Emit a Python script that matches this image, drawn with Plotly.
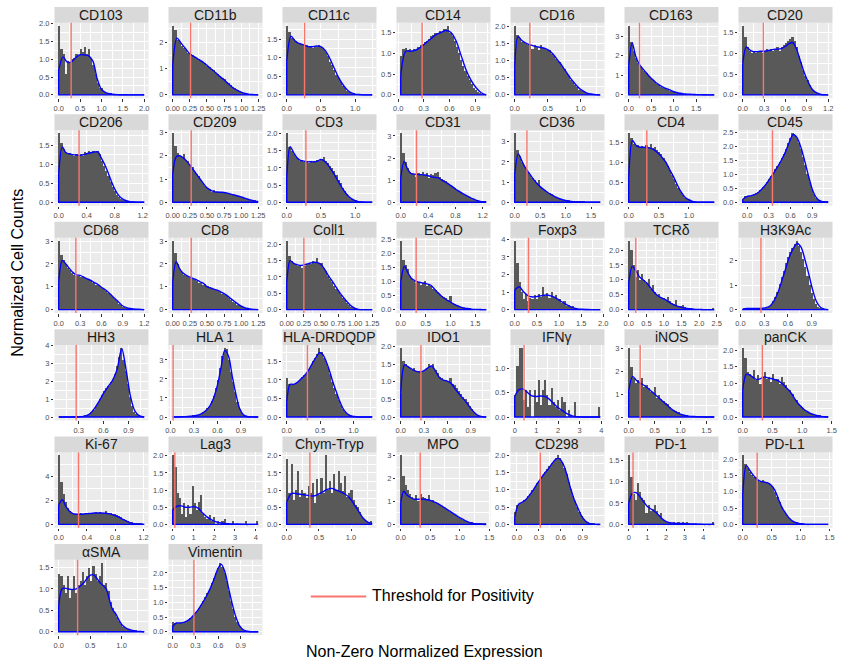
import numpy as np
import plotly.graph_objects as go

# ---------------------------------------------------------------- data
MARKERS = ["CD103", "CD11b", "CD11c", "CD14", "CD16", "CD163", "CD20",
           "CD206", "CD209", "CD3", "CD31", "CD36", "CD4", "CD45",
           "CD68", "CD8", "Coll1", "ECAD", "Foxp3", "TCRδ", "H3K9Ac",
           "HH3", "HLA 1", "HLA-DRDQDP", "IDO1", "IFNγ", "iNOS", "panCK",
           "Ki-67", "Lag3", "Chym-Tryp", "MPO", "CD298", "PD-1", "PD-L1",
           "αSMA", "Vimentin"]

# observed expression range of each marker (histogram extent)
LOWER = [0, 0, 0, 0.03, 0, 0, 0,
         0, 0, 0, 0, 0, 0, -0.06,
         0, 0, 0, 0, 0, 0, 0.03,
         0.06, 0.03, 0, 0, 0, 0, 0,
         0, 0, 0, 0, -0.03, 0, 0,
         0, 0]
UPPER = [2.0, 1.25, 1.25, 1.03, 1.3, 1.9, 1.2,
         1.22, 1.25, 1.25, 1.25, 1.68, 1.42, 1.12,
         1.2, 1.25, 1.25, 1.72, 1.93, 2.43, 1.11,
         1.09, 1.12, 1.28, 1.1, 3.95, 1.65, 1.44,
         1.21, 4.12, 1.33, 1.45, 1.14, 4.58, 1.48,
         1.36, 1.13]
THRESHOLD = [0.29, 0.26, 0.26, 0.28, 0.23, 0.24, 0.29,
             0.29, 0.27, 0.28, 0.23, 0.24, 0.30, 0.35,
             0.24, 0.27, 0.25, 0.31, 0.31, 0.20, 0.26,
             0.27, 0.035, 0.31, 0.26, 0.43, 0.22, 0.33,
             0.28, 0.10, 0.36, 0.33, 0.32, 0.23, 0.25,
             0.30, 0.28]
X_STEP = [0.5, 0.25, 0.5, 0.3, 0.5, 0.5, 0.3,
          0.4, 0.25, 0.5, 0.4, 0.5, 0.5, 0.3,
          0.3, 0.25, 0.25, 0.5, 0.5, 0.5, 0.3,
          0.3, 0.3, 0.5, 0.3, 1, 0.5, 0.5,
          0.4, 1, 0.5, 0.5, 0.3, 1, 0.5,
          0.5, 0.3]
Y_STEP = [0.5, 1, 0.5, 0.5, 0.5, 1, 0.5,
          0.5, 1, 0.5, 1, 1, 0.5, 0.5,
          1, 1, 0.5, 0.5, 1, 0.5, 1,
          1, 1, 0.5, 0.5, 0.5, 1, 0.5,
          2, 0.5, 0.5, 1, 0.5, 0.5, 0.5,
          0.5, 0.5]

# normalized histogram heights (equal-width bins across each range)
BARS_CD103 = [1.93, 1.3, 1.15, 0.6, 0.95, 0.9, 1.0, 1.05, 1.15, 1.1, 1.3, 1.2, 1.35, 1.15, 1.3, 1.05, 0.85, 0.6, 0.35, 0.2,
              0.2, 0.08, 0.05, 0.04, 0.03, 0.02, 0.02, 0.01, 0.01, 0.0, 0.01, 0.02, 0.0, 0.0, 0.0, 0.0, 0.0, 0.0, 0.0, 0.02]
BARS_CD11B = [2.6, 2.45, 2.1, 2.0, 1.85, 1.8, 1.7, 1.6, 1.55, 1.5, 1.45, 1.4, 1.35, 1.3, 1.25, 1.2, 1.1, 1.05, 1.0, 0.95,
              0.85, 0.8, 0.72, 0.65, 0.6, 0.5, 0.45, 0.38, 0.3, 0.25, 0.2, 0.15, 0.1, 0.07, 0.05, 0.03, 0.02, 0.01, 0.01, 0.0]
BARS_CD11C = [1.85, 1.7, 1.55, 1.5, 1.45, 1.4, 1.4, 1.38, 1.35, 1.35, 1.3, 1.3, 1.28, 1.33, 1.3, 1.35, 1.3, 1.25, 1.15, 1.05,
              0.9, 0.8, 0.68, 0.55, 0.45, 0.35, 0.25, 0.18, 0.12, 0.08, 0.05, 0.03, 0.02, 0.01, 0.01, 0.0, 0.0, 0.0, 0.0, 0.01]
BARS_CD14 = [0.95, 1.1, 1.12, 1.08, 1.1, 1.05, 1.1, 1.08, 1.15, 1.2, 1.22, 1.28, 1.3, 1.35, 1.42, 1.45, 1.5, 1.48, 1.55, 1.52,
             1.58, 1.6, 1.65, 1.5, 1.42, 1.3, 1.15, 1.0, 0.85, 0.7, 0.58, 0.45, 0.35, 0.26, 0.18, 0.12, 0.07, 0.04, 0.02, 0.01]
BARS_CD16 = [2.0, 1.75, 1.65, 1.55, 1.55, 1.5, 1.45, 1.5, 1.35, 1.45, 1.4, 1.3, 1.45, 1.38, 1.35, 1.3, 1.3, 1.2, 1.15, 1.05,
             1.0, 0.95, 0.85, 0.75, 0.65, 0.55, 0.45, 0.38, 0.3, 0.22, 0.16, 0.12, 0.08, 0.05, 0.03, 0.02, 0.01, 0.005, 0.0, 0.0]
BARS_CD163 = [3.5, 2.7, 2.25, 1.9, 1.65, 1.5, 1.38, 1.2, 1.1, 0.97, 0.86, 0.78, 0.66, 0.57, 0.5, 0.43, 0.36, 0.31, 0.27, 0.22,
              0.18, 0.14, 0.11, 0.09, 0.07, 0.05, 0.045, 0.04, 0.03, 0.025, 0.02, 0.015, 0.01, 0.01, 0.005, 0.0, 0.0, 0.0, 0.0, 0.01]
BARS_CD20 = [1.65, 1.4, 1.15, 1.05, 1.0, 1.05, 1.0, 1.05, 1.05, 1.0, 1.05, 1.1, 1.05, 1.1, 1.05, 1.1, 1.15, 1.05, 1.15, 1.2,
             1.25, 1.3, 1.35, 1.4, 1.3, 1.15, 0.95, 0.8, 0.6, 0.45, 0.35, 0.25, 0.15, 0.1, 0.06, 0.04, 0.02, 0.01, 0.01, 0.0]
BARS_CD206 = [1.8, 1.55, 1.4, 1.3, 1.25, 1.28, 1.25, 1.22, 1.25, 1.2, 1.25, 1.22, 1.3, 1.25, 1.35, 1.3, 1.35, 1.32, 1.35, 1.25,
              1.08, 0.95, 0.82, 0.68, 0.52, 0.4, 0.28, 0.18, 0.12, 0.08, 0.05, 0.03, 0.02, 0.01, 0.01, 0.0, 0.0, 0.0, 0.0, 0.0]
BARS_CD209 = [2.95, 2.4, 2.1, 2.0, 1.95, 2.05, 1.8, 1.75, 1.6, 1.5, 1.3, 1.2, 1.1, 0.95, 0.8, 0.7, 0.6, 0.55, 0.45, 0.5,
              0.45, 0.42, 0.45, 0.4, 0.42, 0.38, 0.4, 0.33, 0.32, 0.3, 0.26, 0.25, 0.2, 0.18, 0.15, 0.12, 0.1, 0.07, 0.05, 0.03]
BARS_CD3 = [2.0, 1.6, 1.5, 1.4, 1.3, 1.25, 1.2, 1.22, 1.18, 1.2, 1.15, 1.2, 1.18, 1.2, 1.22, 1.2, 1.25, 1.3, 1.2, 1.15,
            1.05, 1.0, 0.9, 0.78, 0.65, 0.55, 0.42, 0.32, 0.22, 0.15, 0.1, 0.06, 0.03, 0.02, 0.01, 0.0, 0.0, 0.0, 0.0, 0.0]
BARS_CD31 = [3.1, 2.2, 1.8, 1.55, 1.35, 1.3, 1.25, 1.15, 1.3, 1.25, 1.35, 1.2, 1.3, 1.1, 1.25, 1.2, 1.3, 1.35, 1.15, 1.05,
             1.0, 0.95, 0.85, 0.78, 0.7, 0.62, 0.56, 0.5, 0.44, 0.38, 0.33, 0.28, 0.22, 0.17, 0.13, 0.09, 0.06, 0.04, 0.02, 0.01]
BARS_CD36 = [3.4, 2.6, 2.3, 2.0, 1.85, 1.65, 1.5, 1.35, 1.2, 1.1, 0.95, 1.1, 0.75, 0.65, 0.6, 0.5, 0.45, 0.38, 0.3, 0.26,
             0.2, 0.16, 0.12, 0.1, 0.07, 0.05, 0.04, 0.03, 0.02, 0.015, 0.01, 0.01, 0.005, 0.0, 0.0, 0.0, 0.0, 0.0, 0.0, 0.0]
BARS_CD4 = [1.72, 1.6, 1.45, 1.4, 1.42, 1.38, 1.4, 1.35, 1.42, 1.38, 1.45, 1.35, 1.38, 1.3, 1.25, 1.2, 1.1, 1.0, 0.9, 0.8,
            0.68, 0.57, 0.45, 0.35, 0.25, 0.17, 0.11, 0.07, 0.04, 0.02, 0.01, 0.0, 0.0, 0.0, 0.0, 0.0, 0.0, 0.0, 0.0, 0.0]
BARS_CD45 = [0.12, 0.2, 0.21, 0.22, 0.25, 0.27, 0.31, 0.36, 0.43, 0.52, 0.61, 0.72, 0.83, 0.93, 1.05, 1.17, 1.3, 1.42, 1.57, 1.72,
             1.9, 2.1, 2.28, 2.45, 2.38, 2.3, 2.1, 1.9, 1.62, 1.33, 1.0, 0.72, 0.47, 0.28, 0.15, 0.08, 0.04, 0.02, 0.01, 0.005]
BARS_CD68 = [3.0, 2.4, 2.2, 2.0, 1.85, 1.75, 1.6, 1.55, 1.5, 1.5, 1.45, 1.5, 1.4, 1.35, 1.35, 1.3, 1.2, 1.1, 1.1, 1.05,
             0.98, 0.92, 0.82, 0.74, 0.65, 0.56, 0.47, 0.38, 0.28, 0.2, 0.13, 0.09, 0.06, 0.05, 0.04, 0.03, 0.02, 0.02, 0.01, 0.01]
BARS_CD8 = [3.0, 2.5, 2.0, 1.8, 1.65, 1.55, 1.5, 1.45, 1.4, 1.35, 1.3, 1.28, 1.2, 1.18, 1.1, 1.12, 1.05, 1.0, 0.98, 0.92,
            0.88, 0.82, 0.78, 0.72, 0.66, 0.6, 0.52, 0.45, 0.36, 0.3, 0.22, 0.16, 0.12, 0.08, 0.05, 0.04, 0.02, 0.01, 0.01, 0.01]
BARS_COLL1 = [2.1, 1.65, 1.5, 1.42, 1.4, 1.35, 1.38, 1.3, 1.35, 1.4, 1.45, 1.42, 1.5, 1.45, 1.6, 1.45, 1.45, 1.3, 1.2, 1.05,
              0.95, 0.85, 0.75, 0.65, 0.55, 0.46, 0.38, 0.3, 0.22, 0.16, 0.1, 0.06, 0.03, 0.01, 0.01, 0.0, 0.0, 0.0, 0.0, 0.0]
BARS_ECAD = [2.45, 1.8, 1.6, 1.45, 1.2, 1.1, 1.05, 0.95, 1.0, 0.9, 0.95, 1.05, 0.85, 0.9, 0.85, 0.75, 0.7, 0.65, 0.55, 0.5,
             0.45, 0.42, 0.35, 0.5, 0.25, 0.22, 0.18, 0.15, 0.12, 0.08, 0.06, 0.05, 0.04, 0.03, 0.02, 0.02, 0.01, 0.01, 0.0, 0.0]
BARS_FOXP3 = [3.9, 2.7, 1.6, 1.0, 0.6, 0.9, 0.5, 0.7, 0.65, 0.85, 0.6, 0.9, 0.75, 1.3, 0.8, 0.95, 0.7, 1.0, 0.75, 0.85,
              0.55, 0.6, 0.4, 0.5, 0.25, 0.3, 0.15, 0.2, 0.08, 0.05, 0.03, 0.02, 0.0, 0.02, 0.0, 0.0, 0.0, 0.0, 0.0, 0.02]
BARS_TCRD = [2.3, 2.0, 1.5, 1.1, 1.35, 1.0, 1.2, 1.0, 0.9, 1.05, 0.7, 0.85, 0.6, 0.5, 0.55, 0.45, 0.4, 0.35, 0.45, 0.3,
             0.25, 0.2, 0.35, 0.15, 0.12, 0.18, 0.1, 0.05, 0.08, 0.04, 0.03, 0.02, 0.03, 0.01, 0.0, 0.0, 0.0, 0.0, 0.0, 0.08]
BARS_H3K9AC = [0.03, 0.04, 0.05, 0.05, 0.05, 0.05, 0.05, 0.05, 0.05, 0.05, 0.06, 0.08, 0.12, 0.22, 0.36, 0.52, 0.75, 1.05, 1.33, 1.6,
               1.9, 2.17, 2.36, 2.55, 2.68, 2.8, 2.6, 2.35, 2.07, 1.75, 1.4, 1.03, 0.7, 0.43, 0.24, 0.12, 0.06, 0.02, 0.01, 0.005]
BARS_HH3 = [0.0, 0.0, 0.0, 0.0, 0.0, 0.0, 0.0, 0.005, 0.005, 0.01, 0.02, 0.03, 0.06, 0.11, 0.18, 0.28, 0.42, 0.6, 0.8, 1.0,
            1.22, 1.45, 1.62, 1.76, 1.95, 2.15, 2.4, 2.85, 3.35, 3.85, 3.2, 2.6, 1.85, 1.15, 0.62, 0.3, 0.15, 0.06, 0.02, 0.005]
BARS_HLA1 = [0.0, 0.0, 0.01, 0.01, 0.02, 0.02, 0.03, 0.04, 0.05, 0.06, 0.07, 0.09, 0.12, 0.18, 0.24, 0.33, 0.45, 0.6, 0.82, 1.1,
             1.5, 1.95, 2.55, 3.2, 3.6, 3.55, 3.0, 2.35, 1.85, 1.3, 0.8, 0.42, 0.2, 0.09, 0.04, 0.02, 0.01, 0.0, 0.0, 0.0]
BARS_HLADR = [1.05, 0.88, 0.86, 0.9, 0.92, 0.95, 1.0, 1.08, 1.12, 1.2, 1.3, 1.38, 1.5, 1.6, 1.7, 1.85, 1.75, 1.6, 1.5, 1.35,
              1.15, 0.95, 0.78, 0.62, 0.47, 0.33, 0.22, 0.13, 0.07, 0.04, 0.02, 0.01, 0.0, 0.0, 0.0, 0.0, 0.0, 0.0, 0.0, 0.0]
BARS_IDO1 = [1.95, 1.6, 1.5, 1.45, 1.4, 1.35, 1.38, 1.3, 1.3, 1.28, 1.3, 1.35, 1.4, 1.5, 1.45, 1.5, 1.35, 1.25, 1.15, 1.1,
             1.05, 1.05, 1.02, 1.1, 0.95, 0.9, 0.82, 0.75, 0.66, 0.58, 0.5, 0.42, 0.32, 0.24, 0.15, 0.09, 0.05, 0.02, 0.01, 0.0]
BARS_IFNG = [0.45, 1.05, 1.4, 1.4, 0.35, 0.55, 0.2, 0.55, 0.0, 0.55, 0.3, 0.75, 0.25, 0.55, 0.75, 0.45, 0.25, 0.6, 0.3, 0.2,
             0.35, 0.15, 0.4, 0.3, 0.0, 0.15, 0.05, 0.0, 0.3, 0.0, 0.0, 0.0, 0.0, 0.0, 0.0, 0.0, 0.0, 0.0, 0.0, 0.2]
BARS_INOS = [3.0, 2.2, 1.7, 1.5, 1.6, 1.5, 1.7, 1.3, 1.4, 1.25, 1.1, 1.05, 1.3, 0.85, 0.95, 0.8, 0.7, 0.6, 0.55, 0.45,
             0.35, 0.3, 0.25, 0.2, 0.12, 0.1, 0.08, 0.05, 0.04, 0.03, 0.02, 0.02, 0.01, 0.0, 0.01, 0.0, 0.0, 0.0, 0.0, 0.0]
BARS_PANCK = [2.05, 1.75, 1.35, 1.3, 1.2, 1.4, 1.1, 1.25, 1.0, 1.2, 1.35, 1.15, 1.2, 1.05, 1.3, 1.1, 1.15, 1.0, 1.2, 1.05,
              0.95, 0.85, 0.8, 0.7, 0.55, 0.5, 0.4, 0.32, 0.28, 0.2, 0.15, 0.12, 0.1, 0.08, 0.06, 0.05, 0.04, 0.02, 0.03, 0.02]
BARS_KI67 = [5.7, 3.5, 2.5, 1.8, 1.3, 1.1, 0.9, 0.85, 0.8, 0.85, 0.9, 0.85, 0.8, 0.9, 0.95, 0.9, 0.95, 1.0, 0.9, 1.0,
             0.95, 0.9, 1.05, 0.95, 0.9, 0.85, 0.8, 0.75, 0.65, 0.55, 0.45, 0.35, 0.25, 0.17, 0.1, 0.06, 0.04, 0.02, 0.01, 0.0]
BARS_LAG3 = [2.0, 1.65, 0.9, 0.75, 0.3, 0.6, 0.2, 0.55, 0.3, 1.1, 0.6, 0.4, 0.65, 0.85, 0.3, 0.2, 0.15, 0.25, 0.1, 0.2,
             0.0, 0.1, 0.0, 0.1, 0.15, 0.0, 0.0, 0.0, 0.1, 0.0, 0.0, 0.0, 0.0, 0.0, 0.1, 0.0, 0.0, 0.0, 0.0, 0.1]
BARS_CHYM = [1.9, 0.9, 1.75, 0.7, 1.0, 1.55, 0.8, 1.0, 0.9, 0.75, 1.1, 0.9, 1.2, 0.6, 1.3, 0.85, 1.35, 0.9, 2.0, 1.0,
             1.25, 0.9, 1.45, 1.0, 1.55, 1.2, 0.95, 1.4, 0.8, 0.9, 1.0, 0.7, 0.55, 0.5, 0.35, 0.2, 0.15, 0.1, 0.05, 0.1]
BARS_MPO = [3.0, 2.1, 1.7, 1.5, 1.3, 1.2, 1.1, 1.25, 1.0, 1.3, 1.2, 1.15, 1.1, 1.25, 1.0, 1.05, 0.95, 0.9, 0.85, 0.8,
            0.72, 0.65, 0.62, 0.52, 0.45, 0.38, 0.35, 0.28, 0.22, 0.18, 0.14, 0.1, 0.08, 0.06, 0.04, 0.03, 0.02, 0.01, 0.01, 0.005]
BARS_CD298 = [0.35, 0.55, 0.62, 0.64, 0.68, 0.73, 0.8, 0.88, 0.97, 1.07, 1.17, 1.25, 1.34, 1.42, 1.5, 1.58, 1.67, 1.75, 1.82, 1.9,
              1.98, 1.9, 1.78, 1.62, 1.45, 1.22, 1.0, 0.8, 0.65, 0.5, 0.36, 0.24, 0.15, 0.09, 0.04, 0.02, 0.01, 0.005, 0.0, 0.0]
BARS_PD1 = [1.6, 1.1, 0.7, 0.55, 0.95, 0.75, 0.6, 0.55, 0.25, 0.45, 0.3, 0.35, 0.45, 0.3, 0.2, 0.25, 0.1, 0.05, 0.04, 0.04,
            0.02, 0.04, 0.02, 0.05, 0.02, 0.04, 0.0, 0.05, 0.02, 0.0, 0.0, 0.0, 0.0, 0.0, 0.0, 0.0, 0.0, 0.0, 0.0, 0.05]
BARS_PDL1 = [2.1, 1.85, 1.7, 1.6, 1.5, 1.45, 1.45, 1.35, 1.3, 1.35, 1.3, 1.3, 1.25, 1.2, 1.12, 0.98, 0.82, 0.66, 0.52, 0.4,
             0.3, 0.22, 0.15, 0.1, 0.06, 0.04, 0.02, 0.01, 0.01, 0.0, 0.0, 0.0, 0.0, 0.0, 0.0, 0.0, 0.0, 0.0, 0.0, 0.0]
BARS_ASMA = [1.35, 1.3, 1.1, 0.9, 1.3, 0.8, 1.0, 1.3, 0.9, 1.1, 1.2, 1.4, 1.1, 1.3, 1.5, 1.2, 1.55, 1.35, 1.2, 1.3,
             1.6, 1.1, 1.15, 0.95, 0.7, 0.55, 0.45, 0.35, 0.25, 0.18, 0.12, 0.1, 0.08, 0.06, 0.05, 0.04, 0.03, 0.02, 0.02, 0.01]
BARS_VIM = [0.35, 0.3, 0.3, 0.3, 0.31, 0.33, 0.36, 0.41, 0.47, 0.54, 0.62, 0.7, 0.81, 0.93, 1.05, 1.18, 1.32, 1.47, 1.65, 1.82,
            2.0, 2.18, 2.33, 2.22, 2.0, 1.72, 1.38, 1.05, 0.78, 0.52, 0.33, 0.19, 0.1, 0.05, 0.02, 0.01, 0.005, 0.0, 0.0, 0.0]

# kernel density estimates, sampled evenly across each range
DENS_CD103 = [0.7, 1.07, 0.92, 0.93, 1.05, 1.13, 1.12, 1.1, 0.95, 0.45, 0.15, 0.06, 0.03, 0.01, 0.005, 0, 0, 0, 0, 0, 0]
DENS_CD11B = [1.1, 2.15, 1.95, 1.75, 1.55, 1.45, 1.35, 1.25, 1.12, 0.98, 0.85, 0.7, 0.57, 0.42, 0.28, 0.18, 0.1, 0.05,
              0.02, 0.01, 0.0]
DENS_CD11C = [0.9, 1.58, 1.45, 1.38, 1.35, 1.3, 1.3, 1.32, 1.3, 1.2, 1.0, 0.75, 0.5, 0.3, 0.15, 0.06, 0.02, 0.01, 0.0,
              0.0, 0.0]
DENS_CD14 = [0.45, 1.05, 1.05, 1.08, 1.15, 1.25, 1.35, 1.45, 1.5, 1.55, 1.5, 1.3, 0.95, 0.6, 0.35, 0.17, 0.05, 0.0]
DENS_CD16 = [0.8, 1.7, 1.6, 1.53, 1.48, 1.45, 1.42, 1.4, 1.38, 1.36, 1.32, 1.25, 1.15, 1.02, 0.9, 0.76, 0.62, 0.48, 0.36,
             0.25, 0.16, 0.1, 0.05, 0.03, 0.01, 0.005, 0.0]
DENS_CD163 = [1.5, 2.65, 2.0, 1.58, 1.35, 1.15, 0.95, 0.78, 0.62, 0.5, 0.4, 0.32, 0.25, 0.17, 0.12, 0.08, 0.05, 0.04,
              0.03, 0.02, 0.01, 0.01, 0.005, 0.0, 0.0, 0.0]
DENS_CD20 = [0.75, 1.15, 1.08, 1.04, 1.04, 1.05, 1.05, 1.06, 1.08, 1.1, 1.1, 1.12, 1.17, 1.23, 1.26, 1.12, 0.87, 0.6,
             0.38, 0.2, 0.09, 0.04, 0.01, 0.0, 0.0]
DENS_CD206 = [0.75, 1.45, 1.3, 1.27, 1.25, 1.24, 1.23, 1.25, 1.28, 1.3, 1.32, 1.32, 1.15, 0.97, 0.74, 0.5, 0.3, 0.16,
              0.08, 0.04, 0.015, 0.005, 0.0, 0.0, 0.0]
DENS_CD209 = [1.2, 1.95, 2.0, 1.92, 1.78, 1.6, 1.4, 1.2, 1.0, 0.8, 0.62, 0.52, 0.46, 0.44, 0.43, 0.42, 0.39, 0.35, 0.31,
              0.27, 0.23, 0.18, 0.13, 0.09, 0.05, 0.03]
DENS_CD3 = [0.7, 1.62, 1.45, 1.3, 1.22, 1.2, 1.18, 1.18, 1.18, 1.2, 1.25, 1.2, 1.1, 0.95, 0.8, 0.62, 0.45, 0.3, 0.18,
            0.1, 0.05, 0.02, 0.01, 0.0, 0.0, 0.0]
DENS_CD31 = [1.1, 1.85, 1.5, 1.3, 1.27, 1.25, 1.25, 1.23, 1.2, 1.15, 1.12, 1.1, 1.0, 0.92, 0.82, 0.72, 0.6, 0.5, 0.4,
             0.32, 0.24, 0.16, 0.1, 0.05, 0.02, 0.01]
DENS_CD36 = [1.4, 2.4, 2.05, 1.7, 1.45, 1.2, 0.98, 0.8, 0.65, 0.52, 0.4, 0.3, 0.22, 0.15, 0.1, 0.06, 0.04, 0.02, 0.01,
             0.005, 0, 0, 0, 0, 0]
DENS_CD4 = [0.6, 1.55, 1.42, 1.38, 1.38, 1.37, 1.35, 1.3, 1.22, 1.12, 1.0, 0.82, 0.65, 0.45, 0.27, 0.14, 0.07, 0.03,
            0.01, 0.0, 0.0, 0.0, 0.0, 0.0]
DENS_CD45 = [0.1, 0.2, 0.23, 0.27, 0.35, 0.48, 0.65, 0.85, 1.05, 1.28, 1.52, 1.8, 2.15, 2.42, 2.3, 1.95, 1.45, 0.9, 0.42,
             0.15, 0.04, 0.01, 0.0]
DENS_CD68 = [1.2, 2.15, 2.0, 1.8, 1.62, 1.52, 1.5, 1.42, 1.35, 1.28, 1.18, 1.1, 0.98, 0.88, 0.75, 0.6, 0.45, 0.3, 0.16,
             0.09, 0.05, 0.03, 0.02, 0.01, 0.0]
DENS_CD8 = [1.2, 2.1, 1.8, 1.6, 1.5, 1.42, 1.36, 1.3, 1.22, 1.15, 1.0, 0.95, 0.9, 0.85, 0.78, 0.7, 0.6, 0.48, 0.36,
            0.25, 0.15, 0.09, 0.05, 0.02, 0.01, 0.0]
DENS_COLL1 = [0.8, 1.5, 1.42, 1.38, 1.35, 1.37, 1.4, 1.43, 1.45, 1.44, 1.38, 1.25, 1.07, 0.92, 0.76, 0.6, 0.45, 0.32,
              0.2, 0.1, 0.04, 0.01, 0.0, 0.0, 0.0, 0.0]
DENS_ECAD = [1.0, 1.55, 1.3, 1.1, 1.02, 0.98, 0.95, 0.92, 0.88, 0.75, 0.6, 0.48, 0.38, 0.3, 0.22, 0.15, 0.1, 0.06,
             0.04, 0.02, 0.01, 0.01, 0.0, 0.0]
DENS_FOXP3 = [1.1, 1.3, 1.0, 0.78, 0.72, 0.75, 0.8, 0.83, 0.78, 0.68, 0.52, 0.36, 0.22, 0.1, 0.04, 0.02, 0.01, 0.0,
              0.0, 0.0]
DENS_TCRD = [0.9, 1.45, 1.3, 1.1, 1.0, 0.9, 0.75, 0.6, 0.48, 0.4, 0.35, 0.28, 0.2, 0.14, 0.1, 0.07, 0.05, 0.03, 0.02,
             0.01, 0.01, 0.0, 0.0, 0.0, 0.0]
DENS_H3K9AC = [0.03, 0.05, 0.05, 0.05, 0.05, 0.06, 0.08, 0.15, 0.35, 0.68, 1.15, 1.65, 2.15, 2.5, 2.7, 2.55, 2.05, 1.45,
               0.8, 0.32, 0.1, 0.02, 0.0]
DENS_HH3 = [0, 0, 0, 0, 0.005, 0.02, 0.06, 0.2, 0.5, 0.9, 1.35, 1.72, 2.08, 2.7, 3.85, 2.6, 1.1, 0.3, 0.06, 0.0]
DENS_HLA1 = [0, 0, 0.01, 0.02, 0.03, 0.05, 0.07, 0.11, 0.2, 0.35, 0.58, 1.0, 1.65, 2.6, 3.5, 3.2, 2.15, 1.2, 0.45, 0.12,
             0.03, 0.01, 0, 0]
DENS_HLADR = [0.4, 0.88, 0.88, 0.92, 1.0, 1.08, 1.18, 1.32, 1.48, 1.62, 1.74, 1.68, 1.5, 1.25, 0.95, 0.7, 0.45, 0.25,
              0.12, 0.05, 0.02, 0.01, 0, 0, 0, 0, 0]
DENS_IDO1 = [0.7, 1.48, 1.42, 1.35, 1.3, 1.28, 1.32, 1.4, 1.45, 1.3, 1.12, 1.05, 1.02, 0.95, 0.8, 0.66, 0.53, 0.4, 0.25,
             0.12, 0.04, 0.01, 0.0]
DENS_IFNG = [0.42, 0.56, 0.57, 0.5, 0.43, 0.42, 0.43, 0.42, 0.37, 0.28, 0.2, 0.14, 0.08, 0.04, 0.01, 0.005, 0.0, 0.0,
             0.0, 0.0, 0.0]
DENS_INOS = [1.15, 1.78, 1.6, 1.48, 1.38, 1.25, 1.1, 0.95, 0.8, 0.65, 0.5, 0.35, 0.24, 0.15, 0.09, 0.05, 0.03, 0.02,
             0.01, 0.005, 0, 0, 0]
DENS_PANCK = [0.8, 1.28, 1.25, 1.18, 1.12, 1.15, 1.2, 1.17, 1.15, 1.12, 1.08, 1.0, 0.9, 0.8, 0.65, 0.48, 0.35, 0.25,
              0.17, 0.11, 0.07, 0.04, 0.02, 0.01, 0.0]
DENS_KI67 = [1.6, 2.05, 1.5, 1.1, 0.9, 0.85, 0.85, 0.87, 0.9, 0.92, 0.95, 0.95, 0.95, 0.93, 0.9, 0.82, 0.72, 0.58, 0.42,
             0.27, 0.15, 0.07, 0.03, 0.01, 0.0]
DENS_LAG3 = [0.42, 0.53, 0.54, 0.5, 0.5, 0.52, 0.47, 0.33, 0.22, 0.14, 0.08, 0.05, 0.03, 0.02, 0.01, 0.01, 0.005, 0.0,
             0.0, 0.0, 0.0]
DENS_CHYM = [0.65, 0.9, 0.9, 0.88, 0.86, 0.84, 0.83, 0.88, 0.95, 1.02, 1.05, 1.0, 0.95, 0.88, 0.77, 0.58, 0.38, 0.18,
             0.07, 0.03]
DENS_MPO = [0.95, 1.45, 1.3, 1.2, 1.13, 1.1, 1.1, 1.1, 1.1, 1.08, 1.05, 1.0, 0.95, 0.88, 0.8, 0.72, 0.63, 0.55, 0.46,
            0.38, 0.3, 0.23, 0.16, 0.1, 0.06, 0.03, 0.02, 0.01, 0.0, 0.0]
DENS_CD298 = [0.2, 0.58, 0.64, 0.72, 0.85, 1.0, 1.17, 1.32, 1.47, 1.6, 1.75, 1.88, 1.9, 1.75, 1.45, 1.05, 0.72, 0.47,
              0.24, 0.1, 0.03, 0.01, 0.0, 0.0]
DENS_PD1 = [0.5, 0.73, 0.74, 0.65, 0.53, 0.42, 0.36, 0.3, 0.22, 0.13, 0.07, 0.04, 0.03, 0.02, 0.02, 0.02, 0.01, 0.01,
            0.01, 0.005, 0.0, 0.0, 0.0, 0.005]
DENS_PDL1 = [0.9, 1.8, 1.65, 1.5, 1.38, 1.32, 1.3, 1.27, 1.2, 1.05, 0.78, 0.52, 0.35, 0.2, 0.1, 0.05, 0.02, 0.01, 0.0,
             0, 0, 0, 0, 0, 0]
DENS_ASMA = [0.6, 1.0, 1.02, 1.0, 0.99, 0.99, 1.02, 1.08, 1.15, 1.25, 1.32, 1.33, 1.25, 1.15, 1.08, 1.0, 0.75, 0.52,
             0.42, 0.28, 0.16, 0.1, 0.06, 0.04, 0.02, 0.01, 0.01, 0.0]
DENS_VIM = [0.2, 0.3, 0.3, 0.32, 0.38, 0.48, 0.62, 0.78, 0.98, 1.2, 1.45, 1.75, 2.1, 2.3, 2.05, 1.5, 0.95, 0.5, 0.2,
            0.07, 0.02, 0.0, 0.0, 0.0]

BARS = [BARS_CD103, BARS_CD11B, BARS_CD11C, BARS_CD14, BARS_CD16, BARS_CD163, BARS_CD20,
        BARS_CD206, BARS_CD209, BARS_CD3, BARS_CD31, BARS_CD36, BARS_CD4, BARS_CD45,
        BARS_CD68, BARS_CD8, BARS_COLL1, BARS_ECAD, BARS_FOXP3, BARS_TCRD, BARS_H3K9AC,
        BARS_HH3, BARS_HLA1, BARS_HLADR, BARS_IDO1, BARS_IFNG, BARS_INOS, BARS_PANCK,
        BARS_KI67, BARS_LAG3, BARS_CHYM, BARS_MPO, BARS_CD298, BARS_PD1, BARS_PDL1,
        BARS_ASMA, BARS_VIM]
DENS = [DENS_CD103, DENS_CD11B, DENS_CD11C, DENS_CD14, DENS_CD16, DENS_CD163, DENS_CD20,
        DENS_CD206, DENS_CD209, DENS_CD3, DENS_CD31, DENS_CD36, DENS_CD4, DENS_CD45,
        DENS_CD68, DENS_CD8, DENS_COLL1, DENS_ECAD, DENS_FOXP3, DENS_TCRD, DENS_H3K9AC,
        DENS_HH3, DENS_HLA1, DENS_HLADR, DENS_IDO1, DENS_IFNG, DENS_INOS, DENS_PANCK,
        DENS_KI67, DENS_LAG3, DENS_CHYM, DENS_MPO, DENS_CD298, DENS_PD1, DENS_PDL1,
        DENS_ASMA, DENS_VIM]

# ---------------------------------------------------------------- layout geometry (px)
FIG_W, FIG_H = 866, 667
NCOL = 7
COL_X0, COL_PITCH, PANEL_W = 51.0, 115.2, 95.0
ROW_BOTTOM0, ROW_PITCH, PANEL_H, STRIP_H = 95.0, 108.2, 76.0, 16.0

FONT = "Liberation Sans, Arial, Helvetica, sans-serif"
BAR_FILL = "#595959"
DENS_COLOR = "#0000FF"
THRESH_COLOR = "#F8766D"
PANEL_BG = "#EBEBEB"
STRIP_BG = "#D9D9D9"


def px_x(x):
    return x / FIG_W


def px_y(y):
    return 1 - y / FIG_H


def fmt_for(step):
    if abs(step - round(step)) < 1e-9:
        return "d"
    if abs(step * 10 - round(step * 10)) < 1e-9:
        return ".1f"
    return ".2f"


fig = go.Figure()
layout_axes = {}
shapes = []
annotations = []

for k, name in enumerate(MARKERS):
    r, c = divmod(k, NCOL)
    x0 = COL_X0 + c * COL_PITCH
    x1 = x0 + PANEL_W
    yb = ROW_BOTTOM0 + r * ROW_PITCH
    yt = yb - PANEL_H

    n = k + 1
    xa, ya = ("x", "y") if n == 1 else (f"x{n}", f"y{n}")
    xkey, ykey = ("xaxis", "yaxis") if n == 1 else (f"xaxis{n}", f"yaxis{n}")

    lo, hi = LOWER[k], UPPER[k]
    bars = np.asarray(BARS[k], dtype=float)
    dens = np.asarray(DENS[k], dtype=float)

    nb = len(bars)
    edges = np.linspace(lo, hi, nb + 1)
    centers = 0.5 * (edges[:-1] + edges[1:])
    bw = (hi - lo) / nb
    xd = np.linspace(lo, hi, len(dens))

    # histogram
    fig.add_trace(go.Bar(x=centers, y=bars, width=bw, xaxis=xa, yaxis=ya,
                         marker=dict(color=BAR_FILL, line=dict(width=0)),
                         hoverinfo="skip", showlegend=False))
    # density outline: baseline + left edge, then the smooth curve
    fig.add_trace(go.Scatter(x=[hi, lo, lo], y=[0, 0, dens[0]], mode="lines",
                             xaxis=xa, yaxis=ya, hoverinfo="skip", showlegend=False,
                             line=dict(color=DENS_COLOR, width=1.4)))
    fig.add_trace(go.Scatter(x=xd, y=dens, mode="lines", xaxis=xa, yaxis=ya,
                             hoverinfo="skip", showlegend=False,
                             line=dict(color=DENS_COLOR, width=1.4, shape="spline", smoothing=0.9)))

    span = hi - lo
    ymax = max(bars.max(), dens.max())
    grid = dict(showgrid=True, gridcolor="white", gridwidth=1.1, zeroline=False, showline=False,
                ticks="outside", ticklen=2.5, tickwidth=0.8, tickcolor="#333333",
                tickfont=dict(size=7.5, color="#4D4D4D", family=FONT), fixedrange=True)
    layout_axes[xkey] = dict(
        domain=[px_x(x0), px_x(x1)], anchor=ya,
        range=[lo - 0.05 * span, hi + 0.05 * span],
        tick0=0, dtick=X_STEP[k], tickformat=fmt_for(X_STEP[k]),
        minor=dict(tick0=0, dtick=X_STEP[k] / 2, showgrid=True, gridcolor="white", gridwidth=0.55),
        **grid)
    layout_axes[ykey] = dict(
        domain=[px_y(yb), px_y(yt)], anchor=xa,
        range=[-0.05 * ymax, 1.05 * ymax],
        tick0=0, dtick=Y_STEP[k], tickformat=fmt_for(Y_STEP[k]),
        minor=dict(tick0=0, dtick=Y_STEP[k] / 2, showgrid=True, gridcolor="white", gridwidth=0.55),
        **grid)

    # positivity threshold
    shapes.append(dict(type="line", xref=xa, yref=f"{ya} domain", x0=THRESHOLD[k], x1=THRESHOLD[k],
                       y0=0, y1=1, line=dict(color=THRESH_COLOR, width=1.4), layer="above"))
    # facet strip
    shapes.append(dict(type="rect", xref="paper", yref="paper",
                       x0=px_x(x0), x1=px_x(x1), y0=px_y(yt), y1=px_y(yt - STRIP_H),
                       fillcolor=STRIP_BG, line=dict(width=0), layer="below"))
    annotations.append(dict(text=name, xref="paper", yref="paper",
                            x=px_x(0.5 * (x0 + x1)), y=px_y(yt - STRIP_H / 2),
                            xanchor="center", yanchor="middle", showarrow=False,
                            font=dict(size=14, color="#1A1A1A", family=FONT)))

# axis titles
annotations.append(dict(text="Normalized Cell Counts", xref="paper", yref="paper",
                        x=px_x(14), y=px_y(271), textangle=-90, showarrow=False,
                        xanchor="center", yanchor="middle", font=dict(size=16, color="black", family=FONT)))
annotations.append(dict(text="Non-Zero Normalized Expression", xref="paper", yref="paper",
                        x=px_x(425), y=px_y(652), showarrow=False,
                        xanchor="center", yanchor="middle", font=dict(size=16, color="black", family=FONT)))

# legend key
shapes.append(dict(type="line", xref="paper", yref="paper", x0=px_x(310), x1=px_x(366),
                   y0=px_y(597), y1=px_y(597), line=dict(color=THRESH_COLOR, width=2)))
annotations.append(dict(text="Threshold for Positivity", xref="paper", yref="paper",
                        x=px_x(370), y=px_y(596), showarrow=False, xanchor="left", yanchor="middle",
                        font=dict(size=16, color="black", family=FONT)))

fig.update_layout(
    width=FIG_W, height=FIG_H,
    margin=dict(l=0, r=0, t=0, b=0, pad=0),
    paper_bgcolor="white", plot_bgcolor=PANEL_BG,
    font=dict(family=FONT),
    showlegend=False, bargap=0,
    shapes=shapes, annotations=annotations,
    **layout_axes,
)

fig.write_html("out.html", config={"displayModeBar": False})
